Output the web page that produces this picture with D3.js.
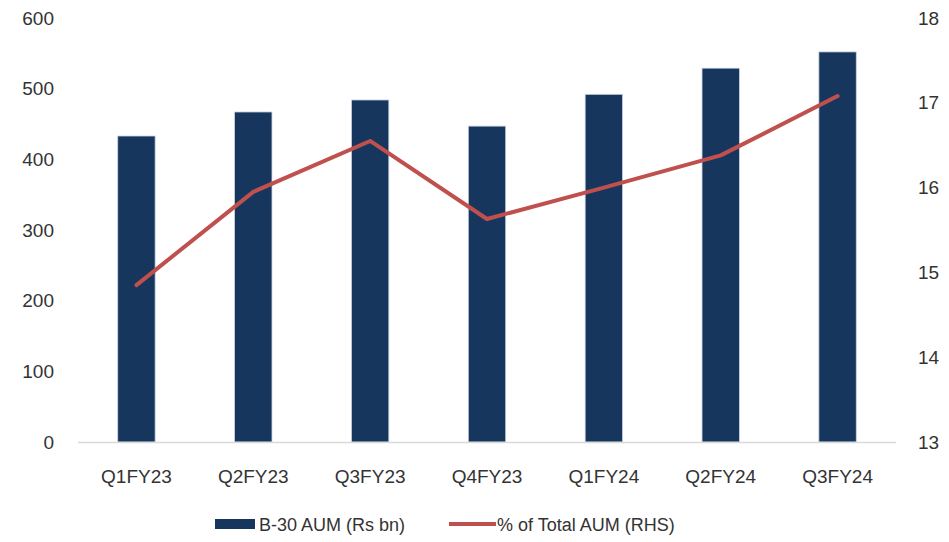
<!DOCTYPE html>
<html>
<head>
<meta charset="utf-8">
<script src="https://cdn.jsdelivr.net/npm/d3@7"></script>
<style>
  body { margin: 0; background: #fff; }
  text { font-family: "Liberation Sans", Arial, sans-serif; fill: #333; }
</style>
</head>
<body>
<div id="container"></div>
<script>
// data
const quarters = ["Q1FY23", "Q2FY23", "Q3FY23", "Q4FY23", "Q1FY24", "Q2FY24", "Q3FY24"];
const aum = [433, 467, 484, 447, 492, 529, 552];          // B-30 AUM (Rs bn)
const share = [14.85, 15.95, 16.55, 15.63, 16.0, 16.38, 17.08]; // % of total AUM
const leftTicks = [0, 100, 200, 300, 400, 500, 600];
const rightTicks = [13, 14, 15, 16, 17, 18];

const width = 949,
    height = 542;
const plot = { left: 78, right: 896, top: 18, bottom: 442 };

const svg = d3.select("#container")
    .append("svg")
    .attr("width", width)
    .attr("height", height);

const xScale = d3.scaleBand()
    .domain(quarters)
    .range([plot.left, plot.right])
    .paddingInner(0.68)
    .paddingOuter(0.34);

const yLeft = d3.scaleLinear()
    .domain([0, 600])
    .range([plot.bottom, plot.top]);

const yRight = d3.scaleLinear()
    .domain([13, 18])
    .range([plot.bottom, plot.top]);

// bars
svg.selectAll("rect.bar")
    .data(quarters)
    .join("rect")
    .attr("class", "bar")
    .attr("x", d => xScale(d))
    .attr("y", (d, i) => yLeft(aum[i]))
    .attr("width", xScale.bandwidth())
    .attr("height", (d, i) => plot.bottom - yLeft(aum[i]))
    .attr("fill", "#17365D")
    .attr("stroke", "#c9d3e0")
    .attr("stroke-width", 0.8);

// baseline
svg.append("line")
    .attr("x1", plot.left)
    .attr("x2", plot.right)
    .attr("y1", plot.bottom + 0.5)
    .attr("y2", plot.bottom + 0.5)
    .attr("stroke", "#d9d9d9")
    .attr("stroke-width", 1.5);

// line series
const lineGen = d3.line()
    .x((d, i) => xScale(quarters[i]) + xScale.bandwidth() / 2)
    .y(d => yRight(d));

svg.append("path")
    .datum(share)
    .attr("d", lineGen)
    .attr("fill", "none")
    .attr("stroke", "#C0504D")
    .attr("stroke-width", 4)
    .attr("stroke-linejoin", "round")
    .attr("stroke-linecap", "round");

// left axis
const leftAxis = d3.axisLeft(yLeft).tickValues(leftTicks).tickSize(0).tickPadding(0);
svg.append("g")
    .attr("transform", `translate(54,0)`)
    .call(leftAxis)
    .call(g => g.select(".domain").remove())
    .selectAll("text")
    .style("font-size", "19px")
    .attr("fill", "#333");

// right axis
const rightAxis = d3.axisRight(yRight).tickValues(rightTicks).tickFormat(d3.format("d")).tickSize(0).tickPadding(0);
svg.append("g")
    .attr("transform", `translate(918,0)`)
    .call(rightAxis)
    .call(g => g.select(".domain").remove())
    .selectAll("text")
    .style("font-size", "19px")
    .attr("fill", "#333");

// x axis labels
const xAxis = d3.axisBottom(xScale).tickSize(0).tickPadding(0);
svg.append("g")
    .attr("transform", `translate(0,${plot.bottom + 27})`)
    .call(xAxis)
    .call(g => g.select(".domain").remove())
    .selectAll("text")
    .style("font-size", "19px")
    .attr("fill", "#333");

// legend
const legend = svg.append("g");
legend.append("rect")
    .attr("x", 215).attr("y", 519)
    .attr("width", 40).attr("height", 10)
    .attr("fill", "#17365D");
legend.append("text")
    .attr("x", 259).attr("y", 531)
    .style("font-size", "18px")
    .text("B-30 AUM (Rs bn)");
legend.append("line")
    .attr("x1", 449).attr("x2", 496)
    .attr("y1", 524).attr("y2", 524)
    .attr("stroke", "#C0504D")
    .attr("stroke-width", 4);
legend.append("text")
    .attr("x", 497).attr("y", 531)
    .style("font-size", "18px")
    .text("% of Total AUM (RHS)");
</script>
</body>
</html>
